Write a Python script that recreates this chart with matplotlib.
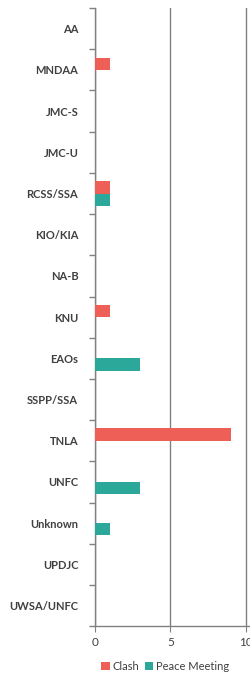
import numpy as np
import matplotlib
matplotlib.use("Agg")
from matplotlib import pyplot as plt

groups = ["AA", "MNDAA", "JMC-S", "JMC-U", "RCSS/SSA", "KIO/KIA", "NA-B", "KNU",
          "EAOs", "SSPP/SSA", "TNLA", "UNFC", "Unknown", "UPDJC", "UWSA/UNFC"]
clash = [0, 1, 0, 0, 1, 0, 0, 1, 0, 0, 9, 0, 0, 0, 0]
peace = [0, 0, 0, 0, 1, 0, 0, 0, 3, 0, 0, 3, 1, 0, 0]

red = "#EE5F58"
teal = "#2BA89A"
txt = "#404040"

plt.rcParams['font.family'] = ['Lato', 'DejaVu Sans']

fig = plt.figure(figsize=(2.5, 6.74), dpi=100)
ax = fig.add_axes([0.38, 0.071, 0.616, 0.917])

y = np.arange(len(groups))
h = 0.3
ax.barh(y - h / 2, clash, height=h, color=red, label="Clash", zorder=3)
ax.barh(y + h / 2, peace, height=h, color=teal, label="Peace Meeting", zorder=3)

ax.set_xlim(0, 10.2)
ax.set_ylim(len(groups) - 0.5, -0.5)
ax.set_xticks([0, 5, 10])
ax.xaxis.grid(True, color="#808080", linewidth=1.0, zorder=0)

ax.set_yticks(y)
ax.set_yticklabels(groups, fontsize=8, color=txt, fontweight="bold")
ax.set_yticks(np.arange(len(groups) + 1) - 0.5, minor=True)
ax.tick_params(axis="y", which="major", length=0, pad=12)
ax.tick_params(axis="y", which="minor", length=4, color="#808080", width=1)
ax.tick_params(axis="x", length=4, color="#808080", labelsize=8.5, labelcolor=txt, pad=4)

for s in ["top", "right"]:
    ax.spines[s].set_visible(False)
for s in ["left", "bottom"]:
    ax.spines[s].set_color("#808080")
    ax.spines[s].set_linewidth(1.0)

fig.legend(loc="lower center", bbox_to_anchor=(0.66, -0.012), ncol=2, frameon=False,
           fontsize=8, handlelength=0.8, handleheight=0.8, handletextpad=0.2,
           columnspacing=0.5, labelcolor=txt)

fig.savefig("out.png", dpi=100)
